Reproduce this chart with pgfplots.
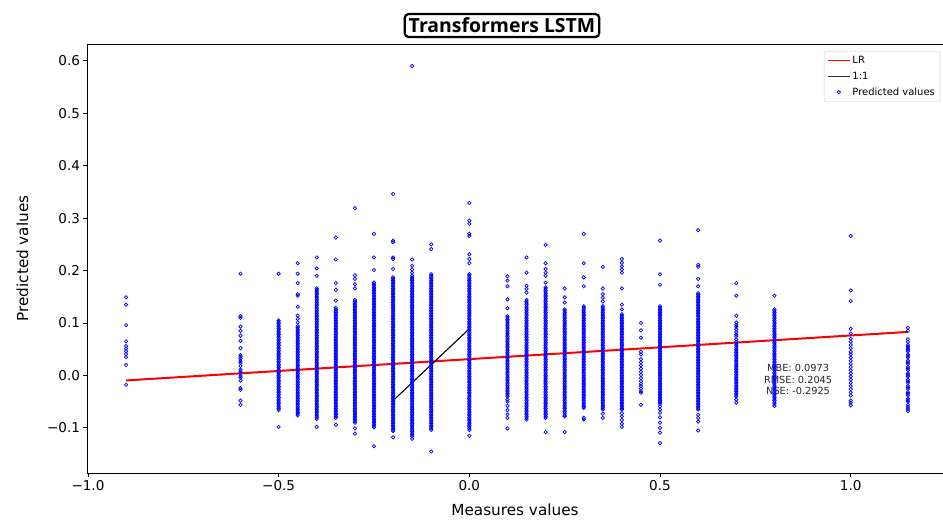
\documentclass[border=0pt]{standalone}
\usepackage{fontspec}
\setmainfont{DejaVu Sans}
\newfontfamily\titlefont{Open Sans}
\usepackage{pgfplots}
\pgfplotsset{compat=1.18}
\pgfplotsset{
  scat/.style={only marks, mark=o, mark size=1.7bp, color=blue, mark options={line width=0.7bp, draw=blue}, forget plot},
  legLR/.style={legend image code/.code={\draw[red, line width=1.3bp] (0bp,0bp) -- (22bp,0bp);}},
  legOne/.style={legend image code/.code={\draw[black!80, line width=1.3bp] (0bp,0bp) -- (22bp,0bp);}},
  legPts/.style={legend image code/.code={\draw[blue, line width=0.7bp] (11bp,0bp) circle (1.7bp);}},
}
\begin{document}
\begin{tikzpicture}
\begin{axis}[name=ax, scale only axis, width=856bp, height=429bp,
  xmin=-1.0025, xmax=1.242, ymin=-0.186, ymax=0.632,
  axis x line*=box, axis y line*=left,
  xtick={-1,-0.5,0,0.5,1}, xticklabels={−1.0,−0.5,0.0,0.5,1.0},
  ytick={-0.1,0,0.1,0.2,0.3,0.4,0.5,0.6}, yticklabels={−0.1,0.0,0.1,0.2,0.3,0.4,0.5,0.6},
  xtick pos=left, ytick pos=left,
  tick align=outside, major tick length=3.5bp,
  tick style={black, line width=0.8bp},
  axis line style={black, line width=0.8bp},
  ticklabel style={font=\fontsize{13.6}{16}\selectfont},
  every axis x label/.style={at={(axis description cs:0.5,-0.0862)}, anchor=center},
  every axis y label/.style={at={(axis description cs:-0.0754,0.5)}, anchor=center, rotate=90},
  xlabel={Measures values}, ylabel={Predicted values},
  label style={font=\fontsize{15.3}{18}\selectfont},
  legend style={at={(axis description cs:1,1)}, anchor=north east, xshift=-3bp, yshift=-7bp,
    draw=black!20, rounded corners=2bp, font=\fontsize{10}{11}\selectfont, row sep=3bp,
    inner xsep=3bp, inner ysep=3bp, fill=white},
  legend cell align=left,
]
\addlegendimage{legLR}
\addlegendentry{LR}
\addlegendimage{legOne}
\addlegendentry{1:1}
\addlegendimage{legPts}
\addlegendentry{Predicted values}

\node[font=\fontsize{9.8}{11.3}\selectfont, align=center, text=black!85] at (axis cs:0.862,-0.008) {MBE: 0.0973\\RMSE: 0.2045\\NSE: -0.2925};

\addplot[scat] coordinates {(-0.9,0.149)(-0.9,0.135)(-0.9,0.096)(-0.9,0.065)(-0.9,0.056)(-0.9,0.051)(-0.9,0.046)(-0.9,0.041)(-0.9,0.035)(-0.9,0.020)(-0.9,-0.018)};
\addplot[scat] coordinates {(-0.6,0.194)(-0.6,0.113)(-0.6,0.110)(-0.6,0.093)(-0.6,0.085)(-0.6,0.076)(-0.6,0.066)(-0.6,0.052)(-0.6,0.039)(-0.6,0.036)(-0.6,0.032)(-0.6,0.027)(-0.6,0.024)(-0.6,0.018)(-0.6,0.011)(-0.6,0.008)(-0.6,0.004)(-0.6,-0.001)(-0.6,-0.004)(-0.6,-0.010)(-0.6,-0.024)(-0.6,-0.027)(-0.6,-0.048)(-0.6,-0.056)};
\addplot[scat] coordinates {(-0.5,0.194)(-0.5,0.105)(-0.5,0.099)(-0.5,0.093)(-0.5,0.087)(-0.5,0.081)(-0.5,0.075)(-0.5,0.069)(-0.5,0.063)(-0.5,0.057)(-0.5,0.051)(-0.5,0.045)(-0.5,0.039)(-0.5,0.033)(-0.5,0.027)(-0.5,0.021)(-0.5,0.015)(-0.5,0.009)(-0.5,0.003)(-0.5,-0.003)(-0.5,-0.009)(-0.5,-0.015)(-0.5,-0.021)(-0.5,-0.027)(-0.5,-0.033)(-0.5,-0.039)(-0.5,-0.045)(-0.5,-0.051)(-0.5,-0.057)(-0.5,-0.063)(-0.5,-0.066)(-0.5,-0.098)};
\addplot[scat] coordinates {(-0.5,0.102)(-0.5,0.096)(-0.5,0.090)(-0.5,0.084)(-0.5,0.078)(-0.5,0.072)(-0.5,0.066)(-0.5,0.060)(-0.5,0.054)(-0.5,0.048)(-0.5,0.042)(-0.5,0.036)(-0.5,0.030)(-0.5,0.024)(-0.5,0.018)(-0.5,0.012)(-0.5,0.006)(-0.5,0.000)(-0.5,-0.006)(-0.5,-0.012)(-0.5,-0.018)(-0.5,-0.024)(-0.5,-0.030)(-0.5,-0.036)(-0.5,-0.042)(-0.5,-0.048)(-0.5,-0.054)(-0.5,-0.060)};
\addplot[scat] coordinates {(-0.45,0.214)(-0.45,0.194)(-0.45,0.176)(-0.45,0.155)(-0.45,0.152)(-0.45,0.131)(-0.45,0.114)(-0.45,0.108)(-0.45,0.101)(-0.45,0.094)(-0.45,0.088)(-0.45,0.082)(-0.45,0.076)(-0.45,0.070)(-0.45,0.064)(-0.45,0.058)(-0.45,0.052)(-0.45,0.046)(-0.45,0.040)(-0.45,0.034)(-0.45,0.028)(-0.45,0.022)(-0.45,0.016)(-0.45,0.010)(-0.45,0.004)(-0.45,-0.002)(-0.45,-0.008)(-0.45,-0.014)(-0.45,-0.020)(-0.45,-0.026)(-0.45,-0.032)(-0.45,-0.038)(-0.45,-0.044)(-0.45,-0.050)(-0.45,-0.056)(-0.45,-0.062)(-0.45,-0.068)(-0.45,-0.073)(-0.45,-0.076)};
\addplot[scat] coordinates {(-0.45,0.091)(-0.45,0.085)(-0.45,0.079)(-0.45,0.073)(-0.45,0.067)(-0.45,0.061)(-0.45,0.055)(-0.45,0.049)(-0.45,0.043)(-0.45,0.037)(-0.45,0.031)(-0.45,0.025)(-0.45,0.019)(-0.45,0.013)(-0.45,0.007)(-0.45,0.001)(-0.45,-0.005)(-0.45,-0.011)(-0.45,-0.017)(-0.45,-0.023)(-0.45,-0.029)(-0.45,-0.035)(-0.45,-0.041)(-0.45,-0.047)(-0.45,-0.053)(-0.45,-0.059)(-0.45,-0.065)(-0.45,-0.071)};
\addplot[scat] coordinates {(-0.4,0.225)(-0.4,0.204)(-0.4,0.190)(-0.4,0.166)(-0.4,0.160)(-0.4,0.154)(-0.4,0.148)(-0.4,0.142)(-0.4,0.136)(-0.4,0.130)(-0.4,0.124)(-0.4,0.118)(-0.4,0.112)(-0.4,0.106)(-0.4,0.100)(-0.4,0.094)(-0.4,0.088)(-0.4,0.082)(-0.4,0.076)(-0.4,0.070)(-0.4,0.064)(-0.4,0.058)(-0.4,0.052)(-0.4,0.046)(-0.4,0.040)(-0.4,0.034)(-0.4,0.028)(-0.4,0.022)(-0.4,0.016)(-0.4,0.010)(-0.4,0.004)(-0.4,-0.002)(-0.4,-0.008)(-0.4,-0.014)(-0.4,-0.020)(-0.4,-0.026)(-0.4,-0.032)(-0.4,-0.038)(-0.4,-0.044)(-0.4,-0.050)(-0.4,-0.056)(-0.4,-0.062)(-0.4,-0.068)(-0.4,-0.074)(-0.4,-0.080)(-0.4,-0.083)(-0.4,-0.098)};
\addplot[scat] coordinates {(-0.4,0.163)(-0.4,0.157)(-0.4,0.151)(-0.4,0.145)(-0.4,0.139)(-0.4,0.133)(-0.4,0.127)(-0.4,0.121)(-0.4,0.115)(-0.4,0.109)(-0.4,0.103)(-0.4,0.097)(-0.4,0.091)(-0.4,0.085)(-0.4,0.079)(-0.4,0.073)(-0.4,0.067)(-0.4,0.061)(-0.4,0.055)(-0.4,0.049)(-0.4,0.043)(-0.4,0.037)(-0.4,0.031)(-0.4,0.025)(-0.4,0.019)(-0.4,0.013)(-0.4,0.007)(-0.4,0.001)(-0.4,-0.005)(-0.4,-0.011)(-0.4,-0.017)(-0.4,-0.023)(-0.4,-0.029)(-0.4,-0.035)(-0.4,-0.041)(-0.4,-0.047)(-0.4,-0.053)(-0.4,-0.059)(-0.4,-0.065)(-0.4,-0.071)(-0.4,-0.077)};
\addplot[scat] coordinates {(-0.35,0.263)(-0.35,0.221)(-0.35,0.176)(-0.35,0.163)(-0.35,0.143)(-0.35,0.129)(-0.35,0.123)(-0.35,0.117)(-0.35,0.111)(-0.35,0.105)(-0.35,0.099)(-0.35,0.093)(-0.35,0.087)(-0.35,0.081)(-0.35,0.075)(-0.35,0.069)(-0.35,0.063)(-0.35,0.057)(-0.35,0.051)(-0.35,0.045)(-0.35,0.039)(-0.35,0.033)(-0.35,0.027)(-0.35,0.021)(-0.35,0.015)(-0.35,0.009)(-0.35,0.003)(-0.35,-0.003)(-0.35,-0.009)(-0.35,-0.015)(-0.35,-0.021)(-0.35,-0.027)(-0.35,-0.033)(-0.35,-0.039)(-0.35,-0.045)(-0.35,-0.051)(-0.35,-0.057)(-0.35,-0.063)(-0.35,-0.069)(-0.35,-0.075)(-0.35,-0.081)(-0.35,-0.094)};
\addplot[scat] coordinates {(-0.35,0.126)(-0.35,0.120)(-0.35,0.114)(-0.35,0.108)(-0.35,0.102)(-0.35,0.096)(-0.35,0.090)(-0.35,0.084)(-0.35,0.078)(-0.35,0.072)(-0.35,0.066)(-0.35,0.060)(-0.35,0.054)(-0.35,0.048)(-0.35,0.042)(-0.35,0.036)(-0.35,0.030)(-0.35,0.024)(-0.35,0.018)(-0.35,0.012)(-0.35,0.006)(-0.35,0.000)(-0.35,-0.006)(-0.35,-0.012)(-0.35,-0.018)(-0.35,-0.024)(-0.35,-0.030)(-0.35,-0.036)(-0.35,-0.042)(-0.35,-0.048)(-0.35,-0.054)(-0.35,-0.060)(-0.35,-0.066)(-0.35,-0.072)(-0.35,-0.078)};
\addplot[scat] coordinates {(-0.3,0.319)(-0.3,0.191)(-0.3,0.184)(-0.3,0.174)(-0.3,0.166)(-0.3,0.144)(-0.3,0.138)(-0.3,0.132)(-0.3,0.126)(-0.3,0.120)(-0.3,0.114)(-0.3,0.108)(-0.3,0.102)(-0.3,0.096)(-0.3,0.090)(-0.3,0.084)(-0.3,0.078)(-0.3,0.072)(-0.3,0.066)(-0.3,0.060)(-0.3,0.054)(-0.3,0.048)(-0.3,0.042)(-0.3,0.036)(-0.3,0.030)(-0.3,0.024)(-0.3,0.018)(-0.3,0.012)(-0.3,0.006)(-0.3,0.000)(-0.3,-0.006)(-0.3,-0.012)(-0.3,-0.018)(-0.3,-0.024)(-0.3,-0.030)(-0.3,-0.036)(-0.3,-0.042)(-0.3,-0.048)(-0.3,-0.054)(-0.3,-0.060)(-0.3,-0.066)(-0.3,-0.072)(-0.3,-0.078)(-0.3,-0.084)(-0.3,-0.090)(-0.3,-0.101)(-0.3,-0.111)};
\addplot[scat] coordinates {(-0.3,0.141)(-0.3,0.135)(-0.3,0.129)(-0.3,0.123)(-0.3,0.117)(-0.3,0.111)(-0.3,0.105)(-0.3,0.099)(-0.3,0.093)(-0.3,0.087)(-0.3,0.081)(-0.3,0.075)(-0.3,0.069)(-0.3,0.063)(-0.3,0.057)(-0.3,0.051)(-0.3,0.045)(-0.3,0.039)(-0.3,0.033)(-0.3,0.027)(-0.3,0.021)(-0.3,0.015)(-0.3,0.009)(-0.3,0.003)(-0.3,-0.003)(-0.3,-0.009)(-0.3,-0.015)(-0.3,-0.021)(-0.3,-0.027)(-0.3,-0.033)(-0.3,-0.039)(-0.3,-0.045)(-0.3,-0.051)(-0.3,-0.057)(-0.3,-0.063)(-0.3,-0.069)(-0.3,-0.075)(-0.3,-0.081)(-0.3,-0.087)};
\addplot[scat] coordinates {(-0.25,0.270)(-0.25,0.225)(-0.25,0.201)(-0.25,0.177)(-0.25,0.171)(-0.25,0.165)(-0.25,0.159)(-0.25,0.153)(-0.25,0.147)(-0.25,0.141)(-0.25,0.135)(-0.25,0.129)(-0.25,0.123)(-0.25,0.117)(-0.25,0.111)(-0.25,0.105)(-0.25,0.099)(-0.25,0.093)(-0.25,0.087)(-0.25,0.081)(-0.25,0.075)(-0.25,0.069)(-0.25,0.063)(-0.25,0.057)(-0.25,0.051)(-0.25,0.045)(-0.25,0.039)(-0.25,0.033)(-0.25,0.027)(-0.25,0.021)(-0.25,0.015)(-0.25,0.009)(-0.25,0.003)(-0.25,-0.003)(-0.25,-0.009)(-0.25,-0.015)(-0.25,-0.021)(-0.25,-0.027)(-0.25,-0.033)(-0.25,-0.039)(-0.25,-0.045)(-0.25,-0.051)(-0.25,-0.057)(-0.25,-0.063)(-0.25,-0.069)(-0.25,-0.075)(-0.25,-0.081)(-0.25,-0.087)(-0.25,-0.093)(-0.25,-0.099)(-0.25,-0.135)};
\addplot[scat] coordinates {(-0.25,0.174)(-0.25,0.168)(-0.25,0.162)(-0.25,0.156)(-0.25,0.150)(-0.25,0.144)(-0.25,0.138)(-0.25,0.132)(-0.25,0.126)(-0.25,0.120)(-0.25,0.114)(-0.25,0.108)(-0.25,0.102)(-0.25,0.096)(-0.25,0.090)(-0.25,0.084)(-0.25,0.078)(-0.25,0.072)(-0.25,0.066)(-0.25,0.060)(-0.25,0.054)(-0.25,0.048)(-0.25,0.042)(-0.25,0.036)(-0.25,0.030)(-0.25,0.024)(-0.25,0.018)(-0.25,0.012)(-0.25,0.006)(-0.25,0.000)(-0.25,-0.006)(-0.25,-0.012)(-0.25,-0.018)(-0.25,-0.024)(-0.25,-0.030)(-0.25,-0.036)(-0.25,-0.042)(-0.25,-0.048)(-0.25,-0.054)(-0.25,-0.060)(-0.25,-0.066)(-0.25,-0.072)(-0.25,-0.078)(-0.25,-0.084)(-0.25,-0.090)(-0.25,-0.096)};
\addplot[scat] coordinates {(-0.2,0.346)(-0.2,0.257)(-0.2,0.254)(-0.2,0.225)(-0.2,0.222)(-0.2,0.203)(-0.2,0.187)(-0.2,0.181)(-0.2,0.175)(-0.2,0.169)(-0.2,0.163)(-0.2,0.157)(-0.2,0.151)(-0.2,0.145)(-0.2,0.139)(-0.2,0.133)(-0.2,0.127)(-0.2,0.121)(-0.2,0.115)(-0.2,0.109)(-0.2,0.103)(-0.2,0.097)(-0.2,0.091)(-0.2,0.085)(-0.2,0.079)(-0.2,0.073)(-0.2,0.067)(-0.2,0.061)(-0.2,0.055)(-0.2,0.049)(-0.2,0.043)(-0.2,0.037)(-0.2,0.031)(-0.2,0.025)(-0.2,0.019)(-0.2,0.013)(-0.2,0.007)(-0.2,0.001)(-0.2,-0.005)(-0.2,-0.011)(-0.2,-0.017)(-0.2,-0.023)(-0.2,-0.029)(-0.2,-0.035)(-0.2,-0.041)(-0.2,-0.047)(-0.2,-0.053)(-0.2,-0.059)(-0.2,-0.065)(-0.2,-0.071)(-0.2,-0.077)(-0.2,-0.083)(-0.2,-0.089)(-0.2,-0.095)(-0.2,-0.101)(-0.2,-0.106)(-0.2,-0.118)};
\addplot[scat] coordinates {(-0.2,0.184)(-0.2,0.178)(-0.2,0.172)(-0.2,0.166)(-0.2,0.160)(-0.2,0.154)(-0.2,0.148)(-0.2,0.142)(-0.2,0.136)(-0.2,0.130)(-0.2,0.124)(-0.2,0.118)(-0.2,0.112)(-0.2,0.106)(-0.2,0.100)(-0.2,0.094)(-0.2,0.088)(-0.2,0.082)(-0.2,0.076)(-0.2,0.070)(-0.2,0.064)(-0.2,0.058)(-0.2,0.052)(-0.2,0.046)(-0.2,0.040)(-0.2,0.034)(-0.2,0.028)(-0.2,0.022)(-0.2,0.016)(-0.2,0.010)(-0.2,0.004)(-0.2,-0.002)(-0.2,-0.008)(-0.2,-0.014)(-0.2,-0.020)(-0.2,-0.026)(-0.2,-0.032)(-0.2,-0.038)(-0.2,-0.044)(-0.2,-0.050)(-0.2,-0.056)(-0.2,-0.062)(-0.2,-0.068)(-0.2,-0.074)(-0.2,-0.080)(-0.2,-0.086)(-0.2,-0.092)(-0.2,-0.098)(-0.2,-0.104)};
\addplot[scat] coordinates {(-0.15,0.590)(-0.15,0.221)(-0.15,0.209)(-0.15,0.202)(-0.15,0.196)(-0.15,0.190)(-0.15,0.184)(-0.15,0.178)(-0.15,0.172)(-0.15,0.166)(-0.15,0.160)(-0.15,0.154)(-0.15,0.148)(-0.15,0.142)(-0.15,0.136)(-0.15,0.130)(-0.15,0.124)(-0.15,0.118)(-0.15,0.112)(-0.15,0.106)(-0.15,0.100)(-0.15,0.094)(-0.15,0.088)(-0.15,0.082)(-0.15,0.076)(-0.15,0.070)(-0.15,0.064)(-0.15,0.058)(-0.15,0.052)(-0.15,0.046)(-0.15,0.040)(-0.15,0.034)(-0.15,0.028)(-0.15,0.022)(-0.15,0.016)(-0.15,0.010)(-0.15,0.004)(-0.15,-0.002)(-0.15,-0.008)(-0.15,-0.014)(-0.15,-0.020)(-0.15,-0.026)(-0.15,-0.032)(-0.15,-0.038)(-0.15,-0.044)(-0.15,-0.050)(-0.15,-0.056)(-0.15,-0.062)(-0.15,-0.068)(-0.15,-0.074)(-0.15,-0.080)(-0.15,-0.086)(-0.15,-0.092)(-0.15,-0.098)(-0.15,-0.104)(-0.15,-0.110)(-0.15,-0.116)(-0.15,-0.121)};
\addplot[scat] coordinates {(-0.15,0.187)(-0.15,0.181)(-0.15,0.175)(-0.15,0.169)(-0.15,0.163)(-0.15,0.157)(-0.15,0.151)(-0.15,0.145)(-0.15,0.139)(-0.15,0.133)(-0.15,0.127)(-0.15,0.121)(-0.15,0.115)(-0.15,0.109)(-0.15,0.103)(-0.15,0.097)(-0.15,0.091)(-0.15,0.085)(-0.15,0.079)(-0.15,0.073)(-0.15,0.067)(-0.15,0.061)(-0.15,0.055)(-0.15,0.049)(-0.15,0.043)(-0.15,0.037)(-0.15,0.031)(-0.15,0.025)(-0.15,0.019)(-0.15,0.013)(-0.15,0.007)(-0.15,0.001)(-0.15,-0.005)(-0.15,-0.011)(-0.15,-0.017)(-0.15,-0.023)(-0.15,-0.029)(-0.15,-0.035)(-0.15,-0.041)(-0.15,-0.047)(-0.15,-0.053)(-0.15,-0.059)(-0.15,-0.065)(-0.15,-0.071)(-0.15,-0.077)(-0.15,-0.083)(-0.15,-0.089)(-0.15,-0.095)(-0.15,-0.101)(-0.15,-0.107)(-0.15,-0.113)};
\addplot[scat] coordinates {(-0.1,0.250)(-0.1,0.241)(-0.1,0.193)(-0.1,0.187)(-0.1,0.181)(-0.1,0.175)(-0.1,0.169)(-0.1,0.163)(-0.1,0.157)(-0.1,0.151)(-0.1,0.145)(-0.1,0.139)(-0.1,0.133)(-0.1,0.127)(-0.1,0.121)(-0.1,0.115)(-0.1,0.109)(-0.1,0.103)(-0.1,0.097)(-0.1,0.091)(-0.1,0.085)(-0.1,0.079)(-0.1,0.073)(-0.1,0.067)(-0.1,0.061)(-0.1,0.055)(-0.1,0.049)(-0.1,0.043)(-0.1,0.037)(-0.1,0.031)(-0.1,0.025)(-0.1,0.019)(-0.1,0.013)(-0.1,0.007)(-0.1,0.001)(-0.1,-0.005)(-0.1,-0.011)(-0.1,-0.017)(-0.1,-0.023)(-0.1,-0.029)(-0.1,-0.035)(-0.1,-0.041)(-0.1,-0.047)(-0.1,-0.053)(-0.1,-0.059)(-0.1,-0.065)(-0.1,-0.071)(-0.1,-0.077)(-0.1,-0.083)(-0.1,-0.089)(-0.1,-0.095)(-0.1,-0.101)(-0.1,-0.104)(-0.1,-0.145)};
\addplot[scat] coordinates {(-0.1,0.190)(-0.1,0.184)(-0.1,0.178)(-0.1,0.172)(-0.1,0.166)(-0.1,0.160)(-0.1,0.154)(-0.1,0.148)(-0.1,0.142)(-0.1,0.136)(-0.1,0.130)(-0.1,0.124)(-0.1,0.118)(-0.1,0.112)(-0.1,0.106)(-0.1,0.100)(-0.1,0.094)(-0.1,0.088)(-0.1,0.082)(-0.1,0.076)(-0.1,0.070)(-0.1,0.064)(-0.1,0.058)(-0.1,0.052)(-0.1,0.046)(-0.1,0.040)(-0.1,0.034)(-0.1,0.028)(-0.1,0.022)(-0.1,0.016)(-0.1,0.010)(-0.1,0.004)(-0.1,-0.002)(-0.1,-0.008)(-0.1,-0.014)(-0.1,-0.020)(-0.1,-0.026)(-0.1,-0.032)(-0.1,-0.038)(-0.1,-0.044)(-0.1,-0.050)(-0.1,-0.056)(-0.1,-0.062)(-0.1,-0.068)(-0.1,-0.074)(-0.1,-0.080)(-0.1,-0.086)(-0.1,-0.092)(-0.1,-0.098)};
\addplot[scat] coordinates {(0,0.329)(0,0.295)(0,0.289)(0,0.270)(0,0.266)(0,0.231)(0,0.222)(0,0.214)(0,0.193)(0,0.187)(0,0.181)(0,0.175)(0,0.169)(0,0.163)(0,0.157)(0,0.151)(0,0.145)(0,0.139)(0,0.133)(0,0.127)(0,0.121)(0,0.115)(0,0.109)(0,0.103)(0,0.097)(0,0.091)(0,0.085)(0,0.079)(0,0.073)(0,0.067)(0,0.061)(0,0.055)(0,0.049)(0,0.043)(0,0.037)(0,0.031)(0,0.025)(0,0.019)(0,0.013)(0,0.007)(0,0.001)(0,-0.005)(0,-0.011)(0,-0.017)(0,-0.023)(0,-0.029)(0,-0.035)(0,-0.041)(0,-0.047)(0,-0.053)(0,-0.059)(0,-0.065)(0,-0.071)(0,-0.077)(0,-0.083)(0,-0.089)(0,-0.095)(0,-0.101)(0,-0.104)(0,-0.115)};
\addplot[scat] coordinates {(0,0.190)(0,0.184)(0,0.178)(0,0.172)(0,0.166)(0,0.160)(0,0.154)(0,0.148)(0,0.142)(0,0.136)(0,0.130)(0,0.124)(0,0.118)(0,0.112)(0,0.106)(0,0.100)(0,0.094)(0,0.088)(0,0.082)(0,0.076)(0,0.070)(0,0.064)(0,0.058)(0,0.052)(0,0.046)(0,0.040)(0,0.034)(0,0.028)(0,0.022)(0,0.016)(0,0.010)(0,0.004)(0,-0.002)(0,-0.008)(0,-0.014)(0,-0.020)(0,-0.026)(0,-0.032)(0,-0.038)(0,-0.044)(0,-0.050)(0,-0.056)(0,-0.062)(0,-0.068)(0,-0.074)(0,-0.080)(0,-0.086)(0,-0.092)(0,-0.098)};
\addplot[scat] coordinates {(0.1,0.189)(0.1,0.181)(0.1,0.170)(0.1,0.145)(0.1,0.128)(0.1,0.113)(0.1,0.107)(0.1,0.101)(0.1,0.095)(0.1,0.089)(0.1,0.083)(0.1,0.077)(0.1,0.071)(0.1,0.065)(0.1,0.059)(0.1,0.053)(0.1,0.047)(0.1,0.041)(0.1,0.035)(0.1,0.029)(0.1,0.023)(0.1,0.017)(0.1,0.011)(0.1,0.005)(0.1,-0.001)(0.1,-0.007)(0.1,-0.013)(0.1,-0.019)(0.1,-0.025)(0.1,-0.031)(0.1,-0.037)(0.1,-0.040)(0.1,-0.046)(0.1,-0.050)(0.1,-0.058)(0.1,-0.066)(0.1,-0.074)(0.1,-0.081)(0.1,-0.101)};
\addplot[scat] coordinates {(0.1,0.110)(0.1,0.104)(0.1,0.098)(0.1,0.092)(0.1,0.086)(0.1,0.080)(0.1,0.074)(0.1,0.068)(0.1,0.062)(0.1,0.056)(0.1,0.050)(0.1,0.044)(0.1,0.038)(0.1,0.032)(0.1,0.026)(0.1,0.020)(0.1,0.014)(0.1,0.008)(0.1,0.002)(0.1,-0.004)(0.1,-0.010)(0.1,-0.016)(0.1,-0.022)(0.1,-0.028)(0.1,-0.034)};
\addplot[scat] coordinates {(0.15,0.225)(0.15,0.196)(0.15,0.171)(0.15,0.165)(0.15,0.158)(0.15,0.144)(0.15,0.138)(0.15,0.132)(0.15,0.126)(0.15,0.120)(0.15,0.114)(0.15,0.108)(0.15,0.102)(0.15,0.096)(0.15,0.090)(0.15,0.084)(0.15,0.078)(0.15,0.072)(0.15,0.066)(0.15,0.060)(0.15,0.054)(0.15,0.048)(0.15,0.042)(0.15,0.036)(0.15,0.030)(0.15,0.024)(0.15,0.018)(0.15,0.012)(0.15,0.006)(0.15,0.000)(0.15,-0.006)(0.15,-0.012)(0.15,-0.018)(0.15,-0.024)(0.15,-0.030)(0.15,-0.036)(0.15,-0.042)(0.15,-0.048)(0.15,-0.054)(0.15,-0.060)(0.15,-0.066)(0.15,-0.072)(0.15,-0.078)(0.15,-0.084)};
\addplot[scat] coordinates {(0.15,0.141)(0.15,0.135)(0.15,0.129)(0.15,0.123)(0.15,0.117)(0.15,0.111)(0.15,0.105)(0.15,0.099)(0.15,0.093)(0.15,0.087)(0.15,0.081)(0.15,0.075)(0.15,0.069)(0.15,0.063)(0.15,0.057)(0.15,0.051)(0.15,0.045)(0.15,0.039)(0.15,0.033)(0.15,0.027)(0.15,0.021)(0.15,0.015)(0.15,0.009)(0.15,0.003)(0.15,-0.003)(0.15,-0.009)(0.15,-0.015)(0.15,-0.021)(0.15,-0.027)(0.15,-0.033)(0.15,-0.039)(0.15,-0.045)(0.15,-0.051)(0.15,-0.057)(0.15,-0.063)(0.15,-0.069)(0.15,-0.075)(0.15,-0.081)};
\addplot[scat] coordinates {(0.2,0.249)(0.2,0.214)(0.2,0.203)(0.2,0.196)(0.2,0.190)(0.2,0.177)(0.2,0.168)(0.2,0.162)(0.2,0.156)(0.2,0.150)(0.2,0.144)(0.2,0.138)(0.2,0.132)(0.2,0.126)(0.2,0.120)(0.2,0.114)(0.2,0.108)(0.2,0.102)(0.2,0.096)(0.2,0.090)(0.2,0.084)(0.2,0.078)(0.2,0.072)(0.2,0.066)(0.2,0.060)(0.2,0.054)(0.2,0.048)(0.2,0.042)(0.2,0.036)(0.2,0.030)(0.2,0.024)(0.2,0.018)(0.2,0.012)(0.2,0.006)(0.2,0.000)(0.2,-0.006)(0.2,-0.012)(0.2,-0.018)(0.2,-0.024)(0.2,-0.030)(0.2,-0.036)(0.2,-0.042)(0.2,-0.048)(0.2,-0.054)(0.2,-0.060)(0.2,-0.066)(0.2,-0.072)(0.2,-0.078)(0.2,-0.081)(0.2,-0.108)};
\addplot[scat] coordinates {(0.2,0.165)(0.2,0.159)(0.2,0.153)(0.2,0.147)(0.2,0.141)(0.2,0.135)(0.2,0.129)(0.2,0.123)(0.2,0.117)(0.2,0.111)(0.2,0.105)(0.2,0.099)(0.2,0.093)(0.2,0.087)(0.2,0.081)(0.2,0.075)(0.2,0.069)(0.2,0.063)(0.2,0.057)(0.2,0.051)(0.2,0.045)(0.2,0.039)(0.2,0.033)(0.2,0.027)(0.2,0.021)(0.2,0.015)(0.2,0.009)(0.2,0.003)(0.2,-0.003)(0.2,-0.009)(0.2,-0.015)(0.2,-0.021)(0.2,-0.027)(0.2,-0.033)(0.2,-0.039)(0.2,-0.045)(0.2,-0.051)(0.2,-0.057)(0.2,-0.063)(0.2,-0.069)(0.2,-0.075)};
\addplot[scat] coordinates {(0.25,0.166)(0.25,0.149)(0.25,0.139)(0.25,0.126)(0.25,0.120)(0.25,0.114)(0.25,0.108)(0.25,0.102)(0.25,0.096)(0.25,0.090)(0.25,0.084)(0.25,0.078)(0.25,0.072)(0.25,0.066)(0.25,0.060)(0.25,0.054)(0.25,0.048)(0.25,0.042)(0.25,0.036)(0.25,0.030)(0.25,0.024)(0.25,0.018)(0.25,0.012)(0.25,0.006)(0.25,0.000)(0.25,-0.006)(0.25,-0.012)(0.25,-0.018)(0.25,-0.024)(0.25,-0.030)(0.25,-0.036)(0.25,-0.042)(0.25,-0.048)(0.25,-0.054)(0.25,-0.060)(0.25,-0.066)(0.25,-0.072)(0.25,-0.076)(0.25,-0.078)(0.25,-0.108)};
\addplot[scat] coordinates {(0.25,0.123)(0.25,0.117)(0.25,0.111)(0.25,0.105)(0.25,0.099)(0.25,0.093)(0.25,0.087)(0.25,0.081)(0.25,0.075)(0.25,0.069)(0.25,0.063)(0.25,0.057)(0.25,0.051)(0.25,0.045)(0.25,0.039)(0.25,0.033)(0.25,0.027)(0.25,0.021)(0.25,0.015)(0.25,0.009)(0.25,0.003)(0.25,-0.003)(0.25,-0.009)(0.25,-0.015)(0.25,-0.021)(0.25,-0.027)(0.25,-0.033)(0.25,-0.039)(0.25,-0.045)(0.25,-0.051)(0.25,-0.057)(0.25,-0.063)(0.25,-0.069)};
\addplot[scat] coordinates {(0.3,0.270)(0.3,0.214)(0.3,0.187)(0.3,0.170)(0.3,0.132)(0.3,0.126)(0.3,0.120)(0.3,0.114)(0.3,0.108)(0.3,0.102)(0.3,0.096)(0.3,0.090)(0.3,0.084)(0.3,0.078)(0.3,0.072)(0.3,0.066)(0.3,0.060)(0.3,0.054)(0.3,0.048)(0.3,0.042)(0.3,0.036)(0.3,0.030)(0.3,0.024)(0.3,0.018)(0.3,0.012)(0.3,0.006)(0.3,0.000)(0.3,-0.006)(0.3,-0.012)(0.3,-0.018)(0.3,-0.024)(0.3,-0.030)(0.3,-0.036)(0.3,-0.042)(0.3,-0.048)(0.3,-0.054)(0.3,-0.060)(0.3,-0.062)(0.3,-0.081)(0.3,-0.084)};
\addplot[scat] coordinates {(0.3,0.129)(0.3,0.123)(0.3,0.117)(0.3,0.111)(0.3,0.105)(0.3,0.099)(0.3,0.093)(0.3,0.087)(0.3,0.081)(0.3,0.075)(0.3,0.069)(0.3,0.063)(0.3,0.057)(0.3,0.051)(0.3,0.045)(0.3,0.039)(0.3,0.033)(0.3,0.027)(0.3,0.021)(0.3,0.015)(0.3,0.009)(0.3,0.003)(0.3,-0.003)(0.3,-0.009)(0.3,-0.015)(0.3,-0.021)(0.3,-0.027)(0.3,-0.033)(0.3,-0.039)(0.3,-0.045)(0.3,-0.051)(0.3,-0.057)};
\addplot[scat] coordinates {(0.35,0.207)(0.35,0.166)(0.35,0.155)(0.35,0.148)(0.35,0.141)(0.35,0.132)(0.35,0.126)(0.35,0.120)(0.35,0.114)(0.35,0.108)(0.35,0.102)(0.35,0.096)(0.35,0.090)(0.35,0.084)(0.35,0.078)(0.35,0.072)(0.35,0.066)(0.35,0.060)(0.35,0.054)(0.35,0.048)(0.35,0.042)(0.35,0.036)(0.35,0.030)(0.35,0.024)(0.35,0.018)(0.35,0.012)(0.35,0.006)(0.35,0.000)(0.35,-0.006)(0.35,-0.012)(0.35,-0.018)(0.35,-0.024)(0.35,-0.030)(0.35,-0.036)(0.35,-0.042)(0.35,-0.048)(0.35,-0.054)(0.35,-0.060)(0.35,-0.065)(0.35,-0.073)(0.35,-0.081)};
\addplot[scat] coordinates {(0.35,0.129)(0.35,0.123)(0.35,0.117)(0.35,0.111)(0.35,0.105)(0.35,0.099)(0.35,0.093)(0.35,0.087)(0.35,0.081)(0.35,0.075)(0.35,0.069)(0.35,0.063)(0.35,0.057)(0.35,0.051)(0.35,0.045)(0.35,0.039)(0.35,0.033)(0.35,0.027)(0.35,0.021)(0.35,0.015)(0.35,0.009)(0.35,0.003)(0.35,-0.003)(0.35,-0.009)(0.35,-0.015)(0.35,-0.021)(0.35,-0.027)(0.35,-0.033)(0.35,-0.039)(0.35,-0.045)(0.35,-0.051)(0.35,-0.057)(0.35,-0.062)};
\addplot[scat] coordinates {(0.4,0.222)(0.4,0.215)(0.4,0.208)(0.4,0.202)(0.4,0.196)(0.4,0.166)(0.4,0.135)(0.4,0.126)(0.4,0.117)(0.4,0.111)(0.4,0.105)(0.4,0.099)(0.4,0.093)(0.4,0.087)(0.4,0.081)(0.4,0.075)(0.4,0.069)(0.4,0.063)(0.4,0.057)(0.4,0.051)(0.4,0.045)(0.4,0.039)(0.4,0.033)(0.4,0.027)(0.4,0.021)(0.4,0.015)(0.4,0.009)(0.4,0.003)(0.4,-0.003)(0.4,-0.009)(0.4,-0.015)(0.4,-0.021)(0.4,-0.027)(0.4,-0.033)(0.4,-0.039)(0.4,-0.045)(0.4,-0.051)(0.4,-0.057)(0.4,-0.063)(0.4,-0.065)(0.4,-0.072)(0.4,-0.078)(0.4,-0.085)(0.4,-0.092)(0.4,-0.098)};
\addplot[scat] coordinates {(0.4,0.114)(0.4,0.108)(0.4,0.102)(0.4,0.096)(0.4,0.090)(0.4,0.084)(0.4,0.078)(0.4,0.072)(0.4,0.066)(0.4,0.060)(0.4,0.054)(0.4,0.048)(0.4,0.042)(0.4,0.036)(0.4,0.030)(0.4,0.024)(0.4,0.018)(0.4,0.012)(0.4,0.006)(0.4,0.000)(0.4,-0.006)(0.4,-0.012)(0.4,-0.018)(0.4,-0.024)(0.4,-0.030)(0.4,-0.036)(0.4,-0.042)(0.4,-0.048)(0.4,-0.054)(0.4,-0.060)};
\addplot[scat] coordinates {(0.45,0.100)(0.45,0.086)(0.45,0.072)(0.45,0.045)(0.45,0.040)(0.45,0.031)(0.45,0.025)(0.45,0.019)(0.45,0.013)(0.45,0.007)(0.45,0.001)(0.45,-0.005)(0.45,-0.011)(0.45,-0.016)(0.45,-0.020)(0.45,-0.025)(0.45,-0.030)(0.45,-0.033)(0.45,-0.056)};
\addplot[scat] coordinates {(0.5,0.257)(0.5,0.193)(0.5,0.173)(0.5,0.132)(0.5,0.126)(0.5,0.120)(0.5,0.114)(0.5,0.108)(0.5,0.102)(0.5,0.096)(0.5,0.090)(0.5,0.084)(0.5,0.078)(0.5,0.072)(0.5,0.066)(0.5,0.060)(0.5,0.054)(0.5,0.048)(0.5,0.042)(0.5,0.036)(0.5,0.030)(0.5,0.024)(0.5,0.018)(0.5,0.012)(0.5,0.006)(0.5,0.000)(0.5,-0.006)(0.5,-0.012)(0.5,-0.018)(0.5,-0.024)(0.5,-0.030)(0.5,-0.036)(0.5,-0.042)(0.5,-0.048)(0.5,-0.054)(0.5,-0.059)(0.5,-0.065)(0.5,-0.071)(0.5,-0.080)(0.5,-0.090)(0.5,-0.100)(0.5,-0.109)(0.5,-0.129)};
\addplot[scat] coordinates {(0.5,0.129)(0.5,0.123)(0.5,0.117)(0.5,0.111)(0.5,0.105)(0.5,0.099)(0.5,0.093)(0.5,0.087)(0.5,0.081)(0.5,0.075)(0.5,0.069)(0.5,0.063)(0.5,0.057)(0.5,0.051)(0.5,0.045)(0.5,0.039)(0.5,0.033)(0.5,0.027)(0.5,0.021)(0.5,0.015)(0.5,0.009)(0.5,0.003)(0.5,-0.003)(0.5,-0.009)(0.5,-0.015)(0.5,-0.021)(0.5,-0.027)(0.5,-0.033)(0.5,-0.039)(0.5,-0.045)(0.5,-0.051)};
\addplot[scat] coordinates {(0.6,0.277)(0.6,0.211)(0.6,0.207)(0.6,0.184)(0.6,0.170)(0.6,0.157)(0.6,0.151)(0.6,0.145)(0.6,0.139)(0.6,0.133)(0.6,0.127)(0.6,0.121)(0.6,0.115)(0.6,0.109)(0.6,0.103)(0.6,0.097)(0.6,0.091)(0.6,0.085)(0.6,0.079)(0.6,0.073)(0.6,0.067)(0.6,0.061)(0.6,0.055)(0.6,0.049)(0.6,0.043)(0.6,0.037)(0.6,0.031)(0.6,0.025)(0.6,0.019)(0.6,0.013)(0.6,0.007)(0.6,0.001)(0.6,-0.005)(0.6,-0.011)(0.6,-0.017)(0.6,-0.023)(0.6,-0.029)(0.6,-0.035)(0.6,-0.041)(0.6,-0.047)(0.6,-0.053)(0.6,-0.059)(0.6,-0.065)(0.6,-0.075)(0.6,-0.081)(0.6,-0.088)(0.6,-0.105)};
\addplot[scat] coordinates {(0.6,0.154)(0.6,0.148)(0.6,0.142)(0.6,0.136)(0.6,0.130)(0.6,0.124)(0.6,0.118)(0.6,0.112)(0.6,0.106)(0.6,0.100)(0.6,0.094)(0.6,0.088)(0.6,0.082)(0.6,0.076)(0.6,0.070)(0.6,0.064)(0.6,0.058)(0.6,0.052)(0.6,0.046)(0.6,0.040)(0.6,0.034)(0.6,0.028)(0.6,0.022)(0.6,0.016)(0.6,0.010)(0.6,0.004)(0.6,-0.002)(0.6,-0.008)(0.6,-0.014)(0.6,-0.020)(0.6,-0.026)(0.6,-0.032)(0.6,-0.038)(0.6,-0.044)(0.6,-0.050)(0.6,-0.056)(0.6,-0.062)};
\addplot[scat] coordinates {(0.7,0.176)(0.7,0.152)(0.7,0.114)(0.7,0.101)(0.7,0.096)(0.7,0.093)(0.7,0.088)(0.7,0.083)(0.7,0.078)(0.7,0.075)(0.7,0.069)(0.7,0.064)(0.7,0.057)(0.7,0.050)(0.7,0.044)(0.7,0.038)(0.7,0.032)(0.7,0.026)(0.7,0.020)(0.7,0.014)(0.7,0.008)(0.7,0.002)(0.7,-0.004)(0.7,-0.010)(0.7,-0.016)(0.7,-0.022)(0.7,-0.028)(0.7,-0.034)(0.7,-0.040)(0.7,-0.046)(0.7,-0.052)};
\addplot[scat] coordinates {(0.7,0.060)(0.7,0.053)(0.7,0.047)(0.7,0.041)(0.7,0.035)(0.7,0.029)(0.7,0.023)(0.7,0.017)(0.7,0.011)(0.7,0.005)(0.7,-0.001)(0.7,-0.007)(0.7,-0.013)(0.7,-0.019)(0.7,-0.025)(0.7,-0.031)(0.7,-0.037)};
\addplot[scat] coordinates {(0.8,0.152)(0.8,0.126)(0.8,0.120)(0.8,0.114)(0.8,0.108)(0.8,0.102)(0.8,0.096)(0.8,0.090)(0.8,0.084)(0.8,0.078)(0.8,0.072)(0.8,0.066)(0.8,0.060)(0.8,0.054)(0.8,0.048)(0.8,0.042)(0.8,0.036)(0.8,0.030)(0.8,0.024)(0.8,0.018)(0.8,0.012)(0.8,0.006)(0.8,0.000)(0.8,-0.006)(0.8,-0.012)(0.8,-0.018)(0.8,-0.024)(0.8,-0.030)(0.8,-0.036)(0.8,-0.042)(0.8,-0.048)(0.8,-0.054)(0.8,-0.058)};
\addplot[scat] coordinates {(0.8,0.123)(0.8,0.117)(0.8,0.111)(0.8,0.105)(0.8,0.099)(0.8,0.093)(0.8,0.087)(0.8,0.081)(0.8,0.075)(0.8,0.069)(0.8,0.063)(0.8,0.057)(0.8,0.051)(0.8,0.045)(0.8,0.039)(0.8,0.033)(0.8,0.027)(0.8,0.021)(0.8,0.015)(0.8,0.009)(0.8,0.003)(0.8,-0.003)(0.8,-0.009)(0.8,-0.015)(0.8,-0.021)(0.8,-0.027)(0.8,-0.033)(0.8,-0.039)(0.8,-0.045)(0.8,-0.051)};
\addplot[scat] coordinates {(1.0,0.266)(1.0,0.162)(1.0,0.142)(1.0,0.089)(1.0,0.080)(1.0,0.070)(1.0,0.064)(1.0,0.058)(1.0,0.052)(1.0,0.045)(1.0,0.040)(1.0,0.034)(1.0,0.028)(1.0,0.022)(1.0,0.016)(1.0,0.010)(1.0,0.004)(1.0,-0.002)(1.0,-0.008)(1.0,-0.014)(1.0,-0.020)(1.0,-0.026)(1.0,-0.032)(1.0,-0.038)(1.0,-0.048)(1.0,-0.052)(1.0,-0.057)};
\addplot[scat] coordinates {(1.15,0.091)(1.15,0.085)(1.15,0.069)(1.15,0.064)(1.15,0.058)(1.15,0.052)(1.15,0.046)(1.15,0.040)(1.15,0.034)(1.15,0.028)(1.15,0.022)(1.15,0.016)(1.15,0.010)(1.15,0.004)(1.15,-0.002)(1.15,-0.008)(1.15,-0.014)(1.15,-0.020)(1.15,-0.026)(1.15,-0.032)(1.15,-0.038)(1.15,-0.044)(1.15,-0.050)(1.15,-0.056)(1.15,-0.060)(1.15,-0.064)(1.15,-0.068)};
\addplot[scat] coordinates {(1.15,0.055)(1.15,0.049)(1.15,0.037)(1.15,0.025)(1.15,0.013)(1.15,0.001)(1.15,-0.011)(1.15,-0.023)(1.15,-0.035)(1.15,-0.047)};

\addplot[red, line width=2bp, forget plot] coordinates {(-0.9,-0.0095) (1.15,0.083)};
\addplot[black, line width=1.1bp, forget plot] coordinates {(-0.2,-0.048) (0.0,0.089)};
\end{axis}
\node[draw=black, line width=2.2bp, rounded corners=4bp, inner xsep=4bp, inner ysep=4bp, font=\titlefont\bfseries\fontsize{19.5}{22}\selectfont] at ([xshift=415bp,yshift=18.5bp]ax.north west) {Transformers LSTM};
\pgfresetboundingbox
\path[use as bounding box] ([xshift=-87bp,yshift=-52bp]ax.south west) rectangle ([yshift=44bp]ax.north east);
\end{tikzpicture}
\end{document}
